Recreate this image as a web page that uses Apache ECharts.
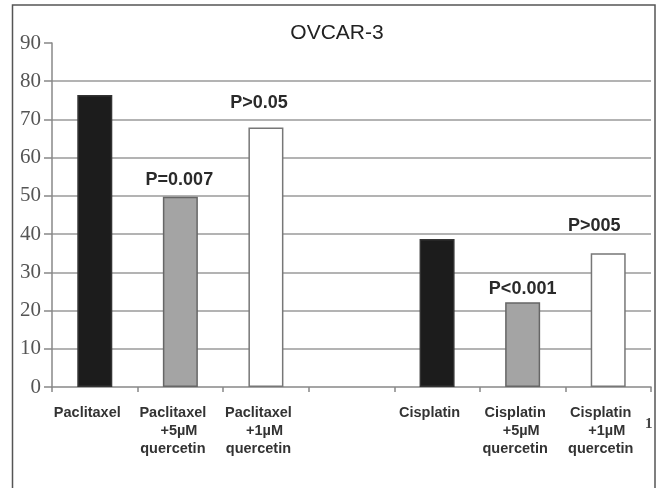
<!DOCTYPE html>
<html>
<head>
<meta charset="utf-8">
<script src="https://cdn.jsdelivr.net/npm/echarts@6/dist/echarts.min.js"></script>
<style>html,body{margin:0;padding:0;background:#fff;}#c{width:665px;height:488px;}</style>
</head>
<body>
<div id="c"></div>
<script>
var categories = ['Paclitaxel', 'Paclitaxel\n   +5µM\nquercetin', 'Paclitaxel\n   +1µM\nquercetin', '', 'Cisplatin', 'Cisplatin\n   +5µM\nquercetin', 'Cisplatin\n   +1µM\nquercetin'];
var values = [76.4, 49.8, 67.9, null, 38.7, 22.2, 35.0];
var pLabels = ['', 'P=0.007', 'P>0.05', '', '', 'P<0.001', 'P>005'];
var yTicks = [0, 10, 20, 30, 40, 50, 60, 70, 80, 90];

var fills = ['#1c1c1c', '#a4a4a4', '#ffffff', '#ffffff', '#1c1c1c', '#a4a4a4', '#ffffff'];
var borders = ['#333333', '#666666', '#777777', '#777777', '#333333', '#666666', '#777777'];
var labelOffsets = [[0, 0], [-1, -8], [-7, -15], [0, 0], [0, 0], [0, -4], [-14, -18]];

var data = values.map(function (v, i) {
  return {
    value: v === null ? '-' : v,
    itemStyle: { color: fills[i], borderColor: borders[i], borderWidth: 1.5 },
    label: { offset: labelOffsets[i] }
  };
});

var chart = echarts.init(document.getElementById('c'), null, { renderer: 'canvas' });
chart.setOption({
  backgroundColor: '#ffffff',
  animation: false,
  title: {
    text: 'OVCAR-3',
    left: 332,
    textAlign: 'center',
    top: 18,
    textStyle: { fontFamily: 'Arial, "Liberation Sans", sans-serif', fontSize: 21, fontWeight: 'normal', color: '#222' }
  },
  graphic: [
    { type: 'rect', shape: { x: 12.5, y: 5, width: 642.5, height: 500 }, style: { fill: 'none', stroke: '#555', lineWidth: 1.5 }, z: 100 },
    { type: 'text', x: 645, y: 417, style: { text: '1', font: 'bold 15px "Liberation Serif", serif', fill: '#444' } }
  ],
  grid: { left: 52, top: 43, right: 14, bottom: 101, containLabel: false },
  xAxis: {
    type: 'category',
    data: categories,
    axisLine: { show: true, lineStyle: { color: '#888', width: 1.5 } },
    axisTick: { show: true, alignWithLabel: false, length: 5, lineStyle: { color: '#888', width: 1.5 } },
    axisLabel: {
      interval: 0,
      margin: 17,
      fontFamily: 'Arial, "Liberation Sans", sans-serif',
      fontSize: 14.5,
      fontWeight: 'bold',
      color: '#333',
      lineHeight: 18,
      align: 'center',
      padding: [0, 15, 0, 0]
    },
    splitLine: { show: false }
  },
  yAxis: {
    type: 'value',
    min: yTicks[0],
    max: yTicks[yTicks.length - 1],
    interval: 10,
    axisLine: { show: true, lineStyle: { color: '#888', width: 1.5 } },
    axisTick: { show: true, inside: false, length: 8, lineStyle: { color: '#888', width: 1.5 } },
    axisLabel: {
      margin: 11,
      fontFamily: '"Liberation Serif", "Times New Roman", serif',
      fontSize: 21,
      color: '#555'
    },
    splitLine: { show: true, showMinLine: false, showMaxLine: false, lineStyle: { color: '#9a9a9a', width: 1.5 } }
  },
  series: [{
    type: 'bar',
    data: data,
    barWidth: 35,
    label: {
      show: true,
      position: 'top',
      distance: 0,
      formatter: function (p) { return pLabels[p.dataIndex]; },
      fontFamily: 'Arial, "Liberation Sans", sans-serif',
      fontSize: 18,
      fontWeight: 'bold',
      color: '#2a2a2a'
    }
  }]
});
</script>
</body>
</html>
